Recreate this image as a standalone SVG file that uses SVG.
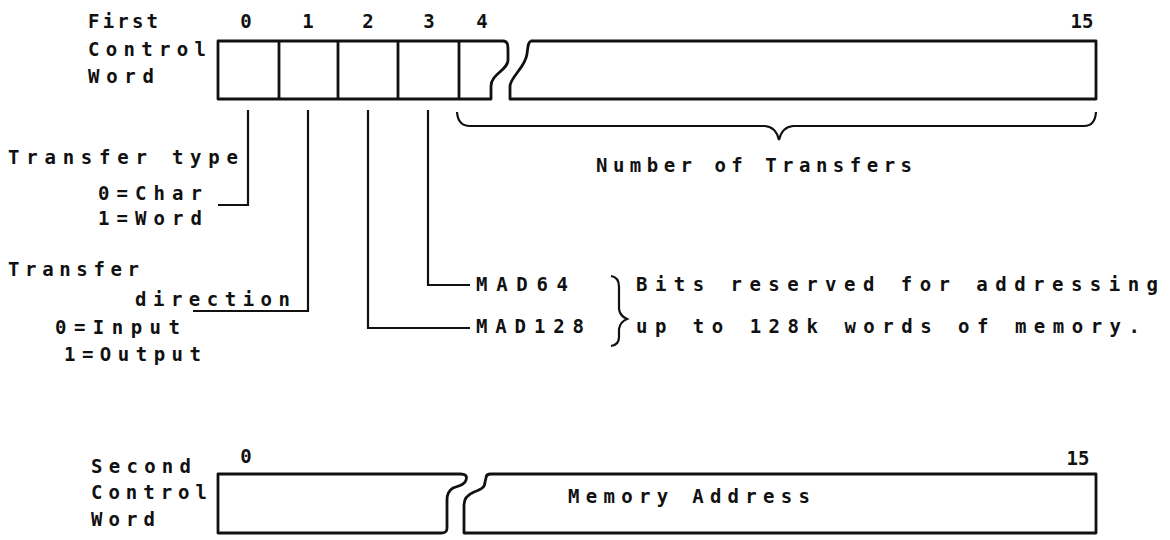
<svg xmlns="http://www.w3.org/2000/svg" width="1170" height="540" viewBox="0 0 1170 540">
<style>
.t{font-family:"DejaVu Sans Mono","Liberation Mono",monospace;font-weight:bold;font-size:19px;fill:#111}
.n{font-family:"DejaVu Sans Mono","Liberation Mono",monospace;font-weight:bold;font-size:19px;fill:#111;text-anchor:middle}
.s{fill:none;stroke:#111;stroke-width:2.8;stroke-linejoin:round}
.c{fill:none;stroke:#111;stroke-width:2.2}
</style>
<rect width="1170" height="540" fill="#fff"/>
<g id="first-word">
<text class="t" x="88" y="28" textLength="70" lengthAdjust="spacing">First</text>
<text class="t" x="88" y="56" textLength="118" lengthAdjust="spacing">Control</text>
<text class="t" x="88" y="83" textLength="66" lengthAdjust="spacing">Word</text>
<text class="n" x="246" y="28">0</text>
<text class="n" x="308" y="28">1</text>
<text class="n" x="368" y="28">2</text>
<text class="n" x="429" y="28">3</text>
<text class="n" x="482" y="28">4</text>
<text class="n" x="1082" y="28">15</text>
<path class="s" d="M218,41 H503 C508,41 508,45 508,52 V60 C508,70 491,74 491,86 V99 H218 Z"/>
<path class="s" d="M279,41 V99 M338,41 V99 M398,41 V99 M459,41 V99"/>
<path class="s" d="M531,41 H1096 V99 H510 V86 C511,76 525,68 527,54 C528,46 528,42 531,41 Z"/>
</g>
<g id="second-word">
<text class="t" x="91" y="473" textLength="100" lengthAdjust="spacing">Second</text>
<text class="t" x="91" y="499" textLength="116" lengthAdjust="spacing">Control</text>
<text class="t" x="91" y="526" textLength="64" lengthAdjust="spacing">Word</text>
<text class="n" x="246" y="463">0</text>
<text class="n" x="1078" y="465">15</text>
<path class="s" d="M218,474 H460 C467,474 467,477 466,480 C465,485 458,486 453,488 C448,491 447,495 447,500 V528 C447,532 445,533 441,533 H218 Z"/>
<path class="s" d="M491,474 H1096 V533 H464 V505 C464,497 469,494 474,492 C482,489 485,487 485,482 L486,478 C486,475 488,474 491,474 Z"/>
<text class="t" x="568" y="503" textLength="242" lengthAdjust="spacing">Memory Address</text>
</g>
<g id="transfer-type">
<text class="t" x="8" y="164" textLength="230" lengthAdjust="spacing">Transfer type</text>
<text class="t" x="98" y="200" textLength="104" lengthAdjust="spacing">0=Char</text>
<text class="t" x="98" y="225" textLength="104" lengthAdjust="spacing">1=Word</text>
</g>
<g id="transfer-direction">
<text class="t" x="8" y="276" textLength="131" lengthAdjust="spacing">Transfer</text>
<text class="t" x="135" y="306" textLength="155" lengthAdjust="spacing">direction</text>
<text class="t" x="55" y="334" textLength="125" lengthAdjust="spacing">0=Input</text>
<text class="t" x="64" y="361" textLength="137" lengthAdjust="spacing">1=Output</text>
</g>
<g id="mad-bits">
<text class="t" x="476" y="291" textLength="92" lengthAdjust="spacing">MAD64</text>
<text class="t" x="476" y="333" textLength="108" lengthAdjust="spacing">MAD128</text>
<text class="t" x="636" y="291" textLength="522" lengthAdjust="spacing">Bits reserved for addressing</text>
<text class="t" x="636" y="333" textLength="504" lengthAdjust="spacing">up to 128k words of memory.</text>
</g>
<g id="number-of-transfers">
<text class="t" x="596" y="172" textLength="316" lengthAdjust="spacing">Number of Transfers</text>
</g>
<g id="connectors">
<path class="c" d="M248,110 V205 H218"/>
<path class="c" d="M308,110 V311 H193"/>
<path class="c" d="M368,110 V328 H470"/>
<path class="c" d="M428,110 V285 H470"/>
<path class="c" d="M457,112 Q458,126 470,126 H765 Q776,127 779,140 Q782,127 793,126 H1084 Q1095,126 1096,112"/>
<path class="c" d="M611,276 Q619,277 619,287 V309 Q620,316 627,319 Q620,322 619,329 V337 Q619,345 611,346"/>
</g>
</svg>
